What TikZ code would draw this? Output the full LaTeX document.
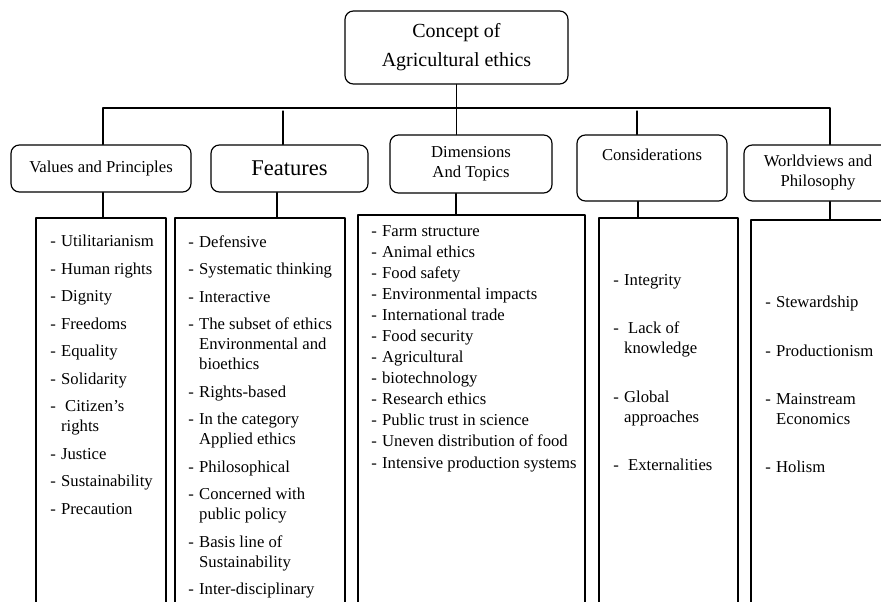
\documentclass[tikz,border=0pt]{standalone}
\usepackage{fontspec}
\setmainfont{Liberation Serif}
\newcommand{\lidash}{\makebox[6.5pt][l]{-}}
\newcommand{\liskip}{\hspace*{6.5pt}}

\begin{document}
\begin{tikzpicture}[x=0.6pt,y=-0.6pt,line cap=round,line join=round,
    headbox/.style={draw,line width=0.7pt,rounded corners=5pt,align=center,
      inner sep=0pt,font=\fontsize{10}{12}\selectfont},
    listbox/.style={draw,line width=0.7pt,inner sep=0pt},
    listtext/.style={anchor=north west,inner sep=0pt,align=left,
      font=\fontsize{10}{12}\selectfont},
    link/.style={line width=0.7pt}]
  \useasboundingbox (0,0) rectangle (881,602);
  \clip (0,0) rectangle (881,602);

  % top and second row
  \node[headbox,minimum width=133.8pt,minimum height=43.8pt,
        font=\fontsize{12}{14.4}\selectfont] (conc) at (456.5,47.5)
        {Concept of\\[3pt]Agricultural ethics};
  \node[headbox,minimum width=108pt,minimum height=28.2pt] (vals) at (101,168.5)
        {Values and Principles};
  \node[headbox,minimum width=94.2pt,minimum height=28.2pt,
        font=\fontsize{13.5}{16}\selectfont] (feat) at (289.5,168.5) {Features};
  \node[headbox,minimum width=97.2pt,minimum height=34.8pt] (dims) at (471,164)
        {Dimensions\\And Topics};
  \node[headbox,minimum width=90pt,minimum height=39.6pt] (cons) at (652,168)
        {Considerations\\\strut};
  \node[headbox,minimum width=88.8pt,minimum height=33.6pt] (world) at (818,173)
        {Worldviews and\\Philosophy};

  % list boxes
  \node[listbox,minimum width=78pt,minimum height=253.2pt] (vlist) at (101,429) {};
  \node[listbox,minimum width=102pt,minimum height=253.2pt] (flist) at (260,429) {};
  \node[listbox,minimum width=136.2pt,minimum height=255pt] (dlist) at (471.5,427.5) {};
  \node[listbox,minimum width=83.4pt,minimum height=253.2pt] (clist) at (668.5,429) {};
  \node[listbox,minimum width=92.4pt,minimum height=252pt] (wlist) at (828,430) {};

  % connectors
  \draw[link] (conc.south) -- (conc.south |- dims.north);
  \draw[link] (103,0 |- vals.north) -- (103,108) -- (830,108) -- (830,0 |- world.north);
  \draw[link] (283,111) -- (283,0 |- feat.north);
  \draw[link] (637,111) -- (637,0 |- cons.north);
  \foreach \x/\a/\b in {103/vals/vlist,277/feat/flist,456/dims/dlist,638/cons/clist,830/world/wlist}
    \draw[link] (\x,0 |- \a.south) -- (\x,0 |- \b.north);

  % list texts
  \node[listtext] (vtext) at (50,235) {\lidash Utilitarianism\\[4.5pt]
    \lidash Human rights\\[4.5pt]
    \lidash Dignity\\[4.5pt]
    \lidash Freedoms\\[4.5pt]
    \lidash Equality\\[4.5pt]
    \lidash Solidarity\\[4.5pt]
    \lidash\hspace{2.4pt}Citizen’s\\
    \liskip rights\\[4.5pt]
    \lidash Justice\\[4.5pt]
    \lidash Sustainability\\[4.5pt]
    \lidash Precaution};
  \node[listtext] (ftext) at (188,235) {\lidash Defensive\\[4.5pt]
    \lidash Systematic thinking\\[4.5pt]
    \lidash Interactive\\[4.5pt]
    \lidash The subset of ethics\\
    \liskip Environmental and\\
    \liskip bioethics\\[4.5pt]
    \lidash Rights-based\\[4.5pt]
    \lidash In the category\\
    \liskip Applied ethics\\[4.5pt]
    \lidash Philosophical\\[4.5pt]
    \lidash Concerned with\\
    \liskip public policy\\[4.5pt]
    \lidash Basis line of\\
    \liskip Sustainability\\[4.5pt]
    \lidash Inter-disciplinary};
  \node[listtext] (dtext) at (371,225) {\lidash Farm structure\\[0.6pt]
    \lidash Animal ethics\\[0.6pt]
    \lidash Food safety\\[0.6pt]
    \lidash Environmental impacts\\[0.6pt]
    \lidash International trade\\[0.6pt]
    \lidash Food security\\[0.6pt]
    \lidash Agricultural\\[0.6pt]
    \lidash biotechnology\\[0.6pt]
    \lidash Research ethics\\[0.6pt]
    \lidash Public trust in science\\[0.6pt]
    \lidash Uneven distribution of food\\[1.2pt]
    \lidash Intensive production systems};
  \node[listtext] (ctext) at (613,274) {\lidash Integrity\\[17pt]
    \lidash\hspace{2.4pt}Lack of\\
    \liskip knowledge\\[17pt]
    \lidash Global\\
    \liskip approaches\\[17pt]
    \lidash\hspace{2.4pt}Externalities};
  \node[listtext] (wtext) at (765,296) {\lidash Stewardship\\[17pt]
    \lidash Productionism\\[17pt]
    \lidash Mainstream\\
    \liskip Economics\\[17pt]
    \lidash Holism};
\end{tikzpicture}
\end{document}
